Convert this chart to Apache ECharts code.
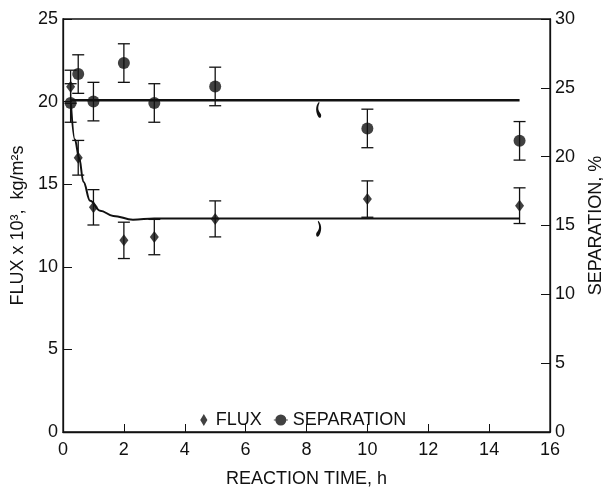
<!DOCTYPE html>
<html>
<head>
<meta charset="utf-8">
<script src="https://cdn.jsdelivr.net/npm/echarts@6/dist/echarts.min.js"></script>
<style>
  html, body { margin: 0; padding: 0; background: #fff; }
  #chart { width: 603px; height: 493px; }
</style>
</head>
<body>
<div id="chart"></div>
<script>
// measured points (time in h)
const fluxTime = [0.25, 0.5, 1, 2, 3, 5, 10, 15];
const fluxValue = [20.9, 16.6, 13.6, 11.6, 11.8, 12.9, 14.1, 13.7];
const fluxErr = [1.0, 1.05, 1.07, 1.1, 1.07, 1.09, 1.1, 1.08];

const sepTime = [0.25, 0.5, 1, 2, 3, 5, 10, 15];
const sepValue = [23.9, 26.0, 24.0, 26.8, 23.9, 25.1, 22.05, 21.15];
const sepErr = [1.4, 1.4, 1.4, 1.4, 1.4, 1.4, 1.4, 1.4];

// fitted curves
const fluxCurveTime = [0.26, 0.39, 0.53, 0.67, 0.89, 1.22, 1.65, 2.3, 3.0, 15];
const fluxCurveValue = [19.9, 17.7, 16.6, 15.15, 14.0, 13.4, 13.08, 12.85, 12.93, 12.93];
const sepLineTime = [0.25, 15];
const sepLineValue = [24.1, 24.1];

// little curve pointers (left axis units)
const pointerTime = [8.4, 8.4];
const pointerValue = [19.5, 12.3];

const xTicks = { min: 0, max: 16, interval: 2 };
const fluxTicks = { min: 0, max: 25, interval: 5 };
const sepTicks = { min: 0, max: 30, interval: 5 };

const font = '"Liberation Sans", Arial, Helvetica, sans-serif';
const ink = '#111';

function errorBar(params, api) {
    const x = api.value(0);
    const lo = api.coord([x, api.value(1)]);
    const hi = api.coord([x, api.value(2)]);
    const w = 6;
    const style = { stroke: ink, lineWidth: 1.3 };
    return {
        type: 'group',
        children: [
            { type: 'line', shape: { x1: lo[0], y1: lo[1], x2: hi[0], y2: hi[1] }, style: style },
            { type: 'line', shape: { x1: lo[0] - w, y1: lo[1], x2: lo[0] + w, y2: lo[1] }, style: style },
            { type: 'line', shape: { x1: hi[0] - w, y1: hi[1], x2: hi[0] + w, y2: hi[1] }, style: style }
        ]
    };
}

const chart = echarts.init(document.getElementById('chart'));

const option = {
    animation: false,
    textStyle: { fontFamily: font, color: ink },
    grid: {
        left: 63, right: 53, top: 19, bottom: 61,
        outerBoundsMode: 'none',
        containLabel: false,
        show: true, borderColor: ink, borderWidth: 1.3
    },
    legend: {
        left: 'center',
        top: 406,
        itemGap: 12,
        itemWidth: 14,
        itemHeight: 12,
        textStyle: { fontSize: 18, color: ink, fontFamily: font },
        data: [
            { name: 'FLUX', icon: 'path://M0,0 L0,0 Z M7,0 L10.6,6 L7,12 L3.4,6 Z M14,12 L14,12 Z', itemStyle: { color: ink } },
            { name: 'SEPARATION', icon: 'path://M0,5.5 L14,5.5 L14,6.5 L0,6.5 Z M7,0.5 A5.5,5.5 0 1,1 6.99,0.5 Z', itemStyle: { color: ink } }
        ]
    },
    xAxis: {
        type: 'value',
        min: xTicks.min, max: xTicks.max, interval: xTicks.interval,
        name: 'REACTION TIME, h',
        nameLocation: 'middle',
        nameGap: 38,
        nameTextStyle: { fontSize: 18, color: ink },
        axisLine: { lineStyle: { color: ink, width: 1.3 } },
        axisTick: { inside: true, length: 8, lineStyle: { color: ink } },
        axisLabel: { fontSize: 18, color: ink, margin: 9 },
        splitLine: { show: false }
    },
    yAxis: [
        {
            type: 'value',
            min: fluxTicks.min, max: fluxTicks.max, interval: fluxTicks.interval,
            name: 'FLUX x 10³,  kg/m²s',
            nameLocation: 'middle',
            nameRotate: 90,
            nameGap: 30,
            nameTextStyle: { fontSize: 18, color: ink },
            axisLine: { show: true, lineStyle: { color: ink, width: 1.3 } },
            axisTick: { show: true, inside: true, length: 9, lineStyle: { color: ink } },
            axisLabel: { fontSize: 18, color: ink, margin: 5 },
            splitLine: { show: false }
        },
        {
            type: 'value',
            position: 'right',
            min: sepTicks.min, max: sepTicks.max, interval: sepTicks.interval,
            name: 'SEPARATION, %',
            nameLocation: 'middle',
            nameRotate: 90,
            nameGap: 37,
            nameTextStyle: { fontSize: 18, color: ink },
            axisLine: { show: true, lineStyle: { color: ink, width: 1.3 } },
            axisTick: { show: true, inside: true, length: 9, lineStyle: { color: ink } },
            axisLabel: { fontSize: 18, color: ink, margin: 5 },
            splitLine: { show: false }
        }
    ],
    series: [
        {
            name: 'fluxErr',
            type: 'custom',
            renderItem: errorBar,
            encode: { x: 0, y: [1, 2] },
            data: fluxTime.map((t, i) => [t, fluxValue[i] - fluxErr[i], fluxValue[i] + fluxErr[i]]),
            z: 2
        },
        {
            name: 'sepErr',
            type: 'custom',
            yAxisIndex: 1,
            renderItem: errorBar,
            encode: { x: 0, y: [1, 2] },
            data: sepTime.map((t, i) => [t, sepValue[i] - sepErr[i], sepValue[i] + sepErr[i]]),
            z: 2
        },
        {
            name: 'fluxCurve',
            type: 'line',
            smooth: 0.4,
            smoothMonotone: 'x',
            showSymbol: false,
            lineStyle: { color: ink, width: 2 },
            data: fluxCurveTime.map((t, i) => [t, fluxCurveValue[i]]),
            markPoint: {
                symbolKeepAspect: true,
                silent: true,
                label: { show: false },
                itemStyle: { color: ink },
                data: [
                    { coord: [pointerTime[0], pointerValue[0]], symbol: 'path://M6,0 C-1,4 0,11 5,15 C9,18 12,13 8,11 C5,9 3,6 7,1 Z', symbolSize: [9, 16] },
                    { coord: [pointerTime[1], pointerValue[1]], symbol: 'path://M5,0 C12,4 11,11 6,15 C2,18 -1,13 3,11 C6,9 8,6 4,1 Z', symbolSize: [9, 16] }
                ]
            },
            z: 3
        },
        {
            name: 'sepLine',
            type: 'line',
            yAxisIndex: 1,
            showSymbol: false,
            lineStyle: { color: ink, width: 2.5 },
            data: sepLineTime.map((t, i) => [t, sepLineValue[i]]),
            z: 3
        },
        {
            name: 'FLUX',
            type: 'scatter',
            symbol: 'diamond',
            symbolSize: [9, 12],
            itemStyle: { color: ink },
            data: fluxTime.map((t, i) => [t, fluxValue[i]]),
            z: 5
        },
        {
            name: 'SEPARATION',
            type: 'scatter',
            yAxisIndex: 1,
            symbol: 'circle',
            symbolSize: 12,
            itemStyle: { color: ink },
            data: sepTime.map((t, i) => [t, sepValue[i]]),
            z: 5
        }
    ]
};

chart.setOption(option);
</script>
</body>
</html>
